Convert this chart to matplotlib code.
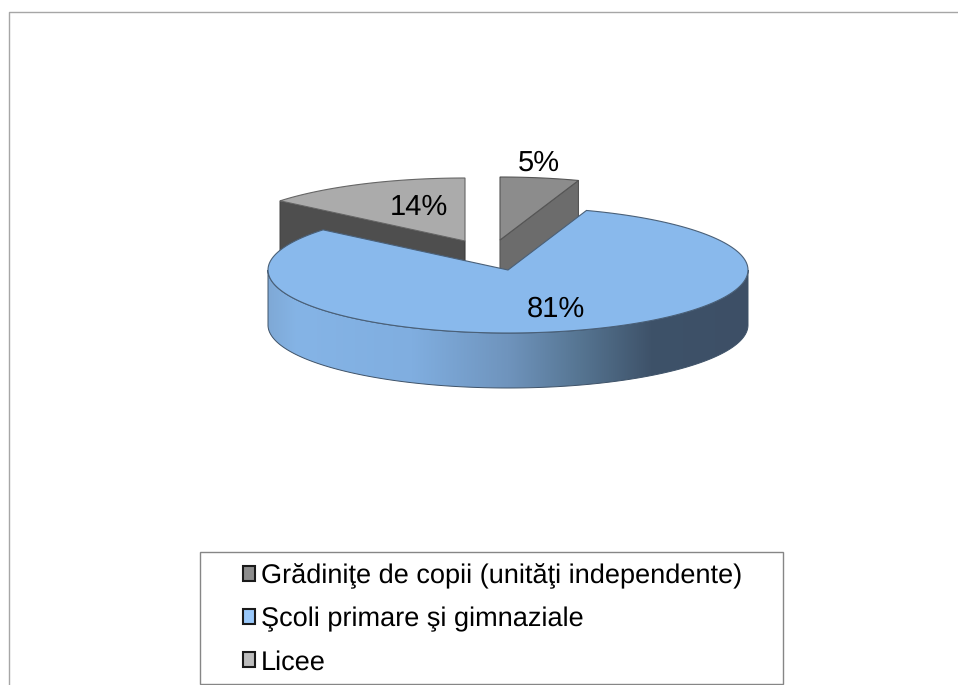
import numpy as np
import matplotlib
matplotlib.use('Agg')
import matplotlib.pyplot as plt
from matplotlib.patches import Polygon, Rectangle
from matplotlib.colors import LinearSegmentedColormap

plt.rcParams['font.family'] = ['Liberation Sans', 'DejaVu Sans']
plt.rcParams['text.hinting'] = 'none'

# datos del grafico
categorias = ['Grădiniţe de copii (unităţi independente)', 'Şcoli primare şi gimnaziale', 'Licee']
valores = [5.3, 80.7, 14.0]

colores_top = ['#8c8c8c', '#89b9ec', '#ababab']
colores_lado = ['#6c6c6c', '#89b9ec', '#4e4e4e']
colores_leyenda = ['#8c8c8c', '#99c8fa', '#bcbcbc']

# geometria en pixeles
RX, RY, PROF = 240, 63, 55
centros = [(500, 240), (508, 270), (465, 241)]
pos_etiquetas = [(539, 163), (556, 309), (419, 207)]

fig = plt.figure(figsize=(9.58, 6.85), dpi=100)
ax = fig.add_axes([0, 0, 1, 1])
ax.set_xlim(0, 958)
ax.set_ylim(685, 0)
ax.axis('off')


# punto del borde, angulo en grados desde las 12 en sentido horario
def borde(c, ang):
    a = np.radians(ang)
    return np.column_stack([c[0] + RX * np.sin(a), c[1] - RY * np.cos(a)])


def sector(c, a0, a1):
    arco = borde(c, np.linspace(a0, a1, 200))
    return np.vstack([[c], arco])


limites = np.cumsum([0] + valores) * 3.6

# caras internas de los sectores de atras
a5 = limites[1]
c = np.array(centros[0])
p = borde(c, np.array([a5]))[0]
ax.add_patch(Polygon([c, p, p + [0, PROF], c + [0, PROF]], fc=colores_lado[0], ec='#555555', lw=0.8, zorder=2))
ax.add_patch(Polygon(sector(c, 0, a5), fc=colores_top[0], ec='#555555', lw=0.8, zorder=3))

a14 = limites[2]
c = np.array(centros[2])
p = borde(c, np.array([a14]))[0]
ax.add_patch(Polygon([c, p, p + [0, PROF], c + [0, PROF]], fc=colores_lado[2], ec='#3c3c3c', lw=0.8, zorder=2))
ax.add_patch(Polygon(sector(c, a14, 360), fc=colores_top[2], ec='#666666', lw=0.8, zorder=3))

# sector azul: lado con degradado y tapa
c = np.array(centros[1])
arco = borde(c, np.linspace(90, 270, 300))
lado = np.vstack([arco, arco[::-1] + [0, PROF]])
cmap = LinearSegmentedColormap.from_list('lado', [
    (0.0, '#7fa9d6'), (0.06, '#85b4e6'), (0.3, '#80aee0'), (0.5, '#6f94bd'),
    (0.65, '#567592'), (0.8, '#3e5269'), (1.0, '#3d4f66')])
im = ax.imshow(np.linspace(0, 1, 256).reshape(1, -1), cmap=cmap, aspect='auto',
               extent=[c[0] - RX, c[0] + RX, c[1] + RY + PROF, c[1] - RY], zorder=4)
pol_lado = Polygon(lado, fc='none', ec='#3e5268', lw=0.7, zorder=5)
ax.add_patch(pol_lado)
im.set_clip_path(pol_lado)
ax.add_patch(Polygon(sector(c, limites[1], limites[2]), fc=colores_top[1], ec='#4a6078', lw=0.8, zorder=6))
ax.set_xlim(0, 958)
ax.set_ylim(685, 0)

# etiquetas de porcentaje
for v, (x, y) in zip(valores, pos_etiquetas):
    ax.text(x, y, f'{v:.0f}%', ha='center', va='center', fontsize=21, color='black', zorder=8)

# marco exterior
ax.plot([9, 9, 958], [685, 12, 12], color='#a6a6a6', lw=1, zorder=1)

# leyenda
ax.add_patch(Rectangle((200.5, 551.5), 583, 132, fc='white', ec='#868686', lw=1, zorder=7))
manijas = [Rectangle((0, 0), 1, 1, fc=col, ec='#1a1a1a', lw=1.5) for col in colores_leyenda]
ley = ax.legend(manijas, categorias, loc='center left', bbox_to_anchor=(243, 619),
                bbox_transform=ax.transData, frameon=False, fontsize=19.5,
                handlelength=0.46, handleheight=0.46, handletextpad=0.2,
                labelspacing=0.66, borderpad=0, borderaxespad=0)
ley.set_zorder(9)

fig.savefig('out.png', dpi=100)
